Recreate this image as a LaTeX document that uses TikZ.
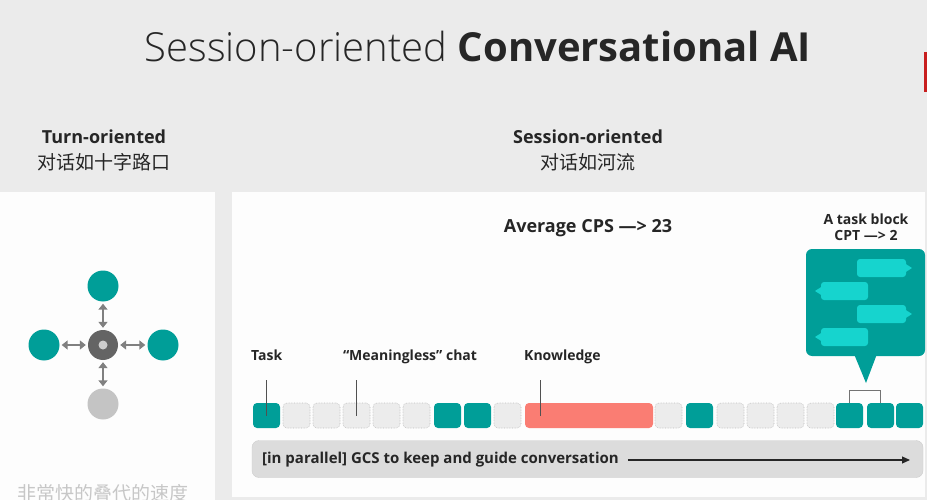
\documentclass[tikz,border=0pt]{standalone}
\usepackage{fontspec}
\setmainfont{Open Sans}
\newfontfamily\lightfont{Open Sans Light}
\newfontfamily\cjk{Noto Sans CJK SC}
\usetikzlibrary{arrows.meta}
\definecolor{bgc}{RGB}{235,235,235}
\definecolor{panelc}{RGB}{253,253,253}
\definecolor{tealc}{RGB}{0,158,152}
\definecolor{lteal}{RGB}{22,212,206}
\definecolor{chatg}{RGB}{236,236,236}
\definecolor{chatd}{RGB}{190,190,190}
\definecolor{knowr}{RGB}{250,125,115}
\definecolor{arrg}{RGB}{128,128,128}
\definecolor{hubc}{RGB}{100,100,100}
\definecolor{hubin}{RGB}{205,205,205}
\definecolor{greyc}{RGB}{196,196,196}
\definecolor{barc}{RGB}{220,220,220}
\definecolor{bard}{RGB}{205,205,205}
\definecolor{textc}{RGB}{38,38,38}
\definecolor{redbar}{RGB}{200,30,30}
\tikzset{
  tealdot/.style={circle, fill=tealc, minimum size=31pt, inner sep=0pt},
  gdot/.style={circle, fill=greyc, minimum size=31pt, inner sep=0pt},
  garrow/.style={draw=arrg, line width=2.8pt, {Triangle[length=6pt,width=9pt]}-{Triangle[length=6pt,width=9pt]}, shorten <=2pt, shorten >=2pt},
  blk/.style={minimum width=27pt, minimum height=25pt, inner sep=0pt, rounded corners=4pt},
  chatblk/.style={blk, fill=chatg, draw=chatd, densely dotted, line width=0.6pt},
  taskblk/.style={blk, fill=tealc},
  lbl/.style={font=\bfseries\fontsize{14}{16}\selectfont, text=textc, inner sep=0pt},
  lead/.style={draw=textc!80, line width=0.9pt},
  hdr/.style={font=\bfseries\fontsize{18}{20}\selectfont, text=textc, inner sep=0pt},
  cjkhdr/.style={font=\cjk\fontsize{19}{21}\selectfont, text=textc, inner sep=0pt},
}
\begin{document}
\begin{tikzpicture}[x=1pt,y=-1pt]
\fill[bgc] (0,0) rectangle (927,500);
\useasboundingbox (0,0) rectangle (927,500);
\fill[panelc] (0,192) rectangle (215,500);
\fill[panelc] (232,192) rectangle (925,497);
\fill[redbar] (924,52) rectangle (927,92);

% title
\node[anchor=base, inner sep=0pt, text=textc] (title) at (478,62)
  {\fontsize{40}{46}\selectfont{\lightfont Session-oriented} \bfseries Conversational AI};

% headers
\node[hdr] (h1) at (104,137) {Turn-oriented};
\node[cjkhdr] (h1c) at (104,162) {对话如十字路口};
\node[hdr] (h2) at (588,137) {Session-oriented};
\node[cjkhdr] (h2c) at (588,162) {对话如河流};

% left diagram
\node[circle, fill=hubc, minimum size=30pt, inner sep=0pt] (hub) at (103,345) {};
\node[circle, fill=hubin, minimum size=9pt, inner sep=0pt] (hubi) at (hub) {};
\node[tealdot] (nt) at (103,286) {};
\node[tealdot] (nl) at (44,345) {};
\node[tealdot] (nr) at (163,345) {};
\node[gdot] (nb) at (103,404) {};
\draw[garrow] (hub) -- (nt);
\draw[garrow] (hub) -- (nl);
\draw[garrow] (hub) -- (nr);
\draw[garrow] (hub) -- (nb);
\begin{scope}
\clip (0,192) rectangle (215,500);
\node[anchor=base, inner sep=0pt, text=black!22, font=\cjk\fontsize{19}{21}\selectfont] (cut) at (103,500) {非常快的叠代的速度};
\end{scope}

% right panel texts
\node[font=\bfseries\fontsize{18}{20}\selectfont, text=textc, inner sep=0pt] (cps) at (588,228) {Average CPS —> 23};
\node[font=\bfseries\fontsize{14}{16}\selectfont, text=textc, inner sep=0pt, align=center] (atb) at (866,227) {A task block\\CPT —> 2};

% bubble
\node[fill=tealc, rounded corners=6pt, minimum width=119pt, minimum height=107pt, inner sep=0pt] (bub) at (865.5,302.5) {};
\fill[tealc] (bub.south) ++(-11,-1) -- ++(22,0) -- (866,383) -- cycle;
% inner chat bubbles
\fill[lteal, rounded corners=3pt] (857,259) rectangle (906,277);
\fill[lteal] (905,263.5) -- (912,268) -- (905,272.5) -- cycle;
\fill[lteal, rounded corners=3pt] (821,282) rectangle (868,300);
\fill[lteal] (822,286.5) -- (815,291) -- (822,295.5) -- cycle;
\fill[lteal, rounded corners=3pt] (857,305) rectangle (906,323);
\fill[lteal] (905,309.5) -- (912,314) -- (905,318.5) -- cycle;
\fill[lteal, rounded corners=3pt] (821,328) rectangle (868,346);
\fill[lteal] (822,332.5) -- (815,337) -- (822,341.5) -- cycle;

% blocks
\foreach \xx/\st [count=\i] in {253/taskblk,283/chatblk,313/chatblk,343/chatblk,373/chatblk,403/chatblk,434/taskblk,464/taskblk,494/chatblk}
  {\node[\st] (b\i) at (\xx+13.5,415.5) {};}
\node[blk, fill=knowr, minimum width=128pt] (kn) at (589,415.5) {};
\foreach \xx/\st [count=\i from 10] in {655/chatblk,686/taskblk,717/chatblk,747/chatblk,777/chatblk,807/chatblk,836/taskblk,867/taskblk,896/taskblk}
  {\node[\st] (b\i) at (\xx+13.5,415.5) {};}

% bracket
\draw[draw=arrg!90!black, line width=1.1pt] (b16.north) -- ++(0,-12) -| (b17.north);

% labels and leaders
\node[lbl, anchor=base west] (lt) at (251,360) {Task};
\node[lbl, anchor=base] (lm) at (410,360) {“Meaningless” chat};
\node[lbl, anchor=base west] (lk) at (524,360) {Knowledge};
\coordinate (ct) at (266,380);
\coordinate (cm) at (356.5,380);
\coordinate (ck) at (540,380);
\draw[lead] (ct) -- (ct |- b1.center);
\draw[lead] (cm) -- (cm |- b4.center);
\draw[lead] (ck) -- (ck |- kn.center);

% bottom bar
\node[fill=barc, draw=bard, rounded corners=7pt, minimum width=671pt, minimum height=37pt, inner sep=0pt] (bar) at (587.5,459) {};
\node[font=\bfseries\fontsize{15}{17}\selectfont, text=textc, anchor=west, inner sep=0pt] (gcs) at (262,460) {[in parallel] GCS to keep and guide conversation};
\coordinate (aend) at (910,460);
\draw[line width=1.1pt, draw=textc, -{Triangle[length=8pt,width=7pt]}] ([xshift=9pt]gcs.east) -- (aend);
\end{tikzpicture}
\end{document}
